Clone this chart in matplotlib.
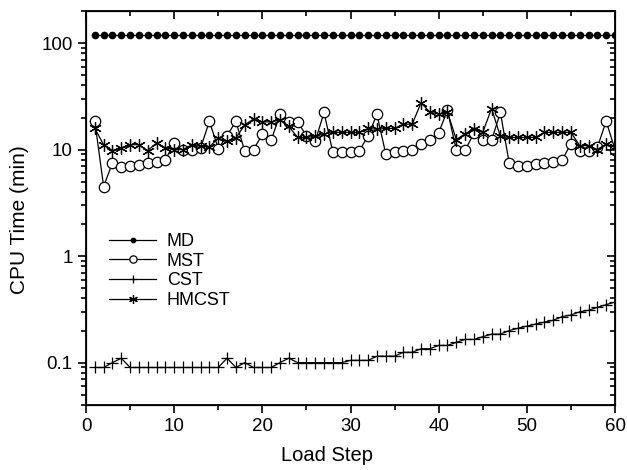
from matplotlib import pyplot as plt
from matplotlib import ticker as tk
import numpy as np

plt.rcParams['font.family'] = ['Liberation Sans', 'DejaVu Sans']

# load steps 1..60
steps = [1, 2, 3, 4, 5, 6, 7, 8, 9, 10, 11, 12, 13, 14, 15, 16, 17, 18, 19, 20,
         21, 22, 23, 24, 25, 26, 27, 28, 29, 30, 31, 32, 33, 34, 35, 36, 37, 38, 39, 40,
         41, 42, 43, 44, 45, 46, 47, 48, 49, 50, 51, 52, 53, 54, 55, 56, 57, 58, 59, 60]

md = [118, 118, 118, 118, 118, 118, 118, 118, 118, 118, 118, 118, 118, 118, 118,
      118, 118, 118, 118, 118, 118, 118, 118, 118, 118, 118, 118, 118, 118, 118,
      118, 118, 118, 118, 118, 118, 118, 118, 118, 118, 118, 118, 118, 118, 118,
      118, 118, 118, 118, 118, 118, 118, 118, 118, 118, 118, 118, 118, 118, 118]

mst = [18.4, 4.5, 7.5, 6.9, 7.0, 7.2, 7.5, 7.6, 8.0, 11.5,
       10.0, 10.0, 10.4, 18.4, 10.2, 13.5, 18.4, 9.7, 10.0, 13.9,
       12.2, 21.4, 18.2, 18.2, 13.5, 12.0, 22.3, 9.4, 9.4, 9.4,
       9.7, 13.5, 21.4, 9.1, 9.4, 9.6, 9.9, 11.3, 12.2, 14.4,
       23.4, 9.9, 9.9, 14.2, 12.2, 12.2, 22.3, 7.5, 7.0, 7.0,
       7.3, 7.5, 7.7, 8.0, 11.3, 9.8, 9.8, 10.5, 18.5, 10.0]

cst = [0.09, 0.09, 0.1, 0.11, 0.09, 0.09, 0.09, 0.09, 0.09, 0.09,
       0.09, 0.09, 0.09, 0.09, 0.09, 0.11, 0.09, 0.1, 0.09, 0.09,
       0.09, 0.1, 0.11, 0.1, 0.1, 0.1, 0.1, 0.1, 0.1, 0.105,
       0.105, 0.105, 0.115, 0.115, 0.115, 0.125, 0.125, 0.135, 0.135, 0.145,
       0.145, 0.155, 0.165, 0.165, 0.175, 0.185, 0.185, 0.2, 0.21, 0.22,
       0.23, 0.24, 0.25, 0.27, 0.28, 0.30, 0.31, 0.33, 0.35, 0.37]

hmcst = [15.8, 11.1, 9.8, 10.4, 11.1, 11.1, 9.8, 11.5, 10.4, 10.0,
         10.0, 11.1, 10.7, 10.6, 12.8, 12.0, 12.8, 17.1, 19.3, 18.2,
         18.2, 19.0, 16.5, 13.0, 13.0, 13.3, 14.0, 14.5, 14.5, 14.5,
         14.5, 15.8, 15.5, 15.8, 15.8, 17.3, 17.3, 27.5, 22.5, 21.5,
         22.5, 12.4, 14.1, 15.6, 14.5, 24.3, 13.3, 13.0, 13.0, 13.0,
         13.0, 14.5, 14.5, 14.5, 14.5, 10.9, 10.9, 10.0, 11.3, 10.5]

fig = plt.figure(figsize=(6.27, 4.70), dpi=100)
ax = fig.add_axes([86/627, 1-405/470, 529/627, 394/470])

ax.plot(steps, md, '-', color='black', lw=0.9, marker='o', ms=4.5,
        mfc='black', mec='black', label='MD', zorder=3)
ax.plot(steps, mst, '-', color='black', lw=0.9, marker='o', ms=7.5,
        mfc='white', mec='black', mew=0.9, label='MST', zorder=4)
ax.plot(steps, cst, '-', color='black', lw=0.9, marker='+', ms=8,
        mew=0.9, label='CST', zorder=3)
ax.plot(steps, hmcst, '-', color='black', lw=0.9, marker=(6, 2, 0), ms=9,
        mew=0.9, label='HMCST', zorder=5)

ax.set_yscale('log')
ax.set_ylim(0.04, 200)
ax.set_xlim(0, 60)
ax.set_xticks([0, 10, 20, 30, 40, 50, 60])
ax.xaxis.set_minor_locator(tk.MultipleLocator(5))
ax.set_yticks([0.1, 1, 10, 100])
ax.yaxis.set_major_formatter(tk.FuncFormatter(lambda v, p: '%g' % v))
ax.yaxis.set_minor_locator(tk.LogLocator(base=10, subs=np.arange(2, 10)))
ax.yaxis.set_minor_formatter(tk.NullFormatter())

ax.tick_params(which='both', direction='out', width=1.2, labelsize=13.5,
               top=False, right=False)
ax.tick_params(which='major', length=6)
ax.tick_params(which='minor', length=3.5)
for s in ax.spines.values():
    s.set_linewidth(1.3)

# mirrored axes, ticks inward, no labels
ax2 = ax.twinx()
ax2.set_yscale('log')
ax2.set_ylim(ax.get_ylim())
ax2.set_yticks([0.1, 1, 10, 100])
ax2.yaxis.set_minor_locator(tk.LogLocator(base=10, subs=np.arange(2, 10)))
ax2.tick_params(which='both', direction='in', width=1.2, labelright=False)
ax2.tick_params(which='major', length=6)
ax2.tick_params(which='minor', length=3.5)
ax2.yaxis.set_minor_formatter(tk.NullFormatter())
ax3 = ax.twiny()
ax3.set_xlim(ax.get_xlim())
ax3.set_xticks([0, 10, 20, 30, 40, 50, 60])
ax3.xaxis.set_minor_locator(tk.MultipleLocator(5))
ax3.tick_params(which='both', direction='in', width=1.2, labeltop=False)
ax3.tick_params(which='major', length=6)
ax3.tick_params(which='minor', length=3.5)

ax.set_xlabel('Load Step', fontsize=14.5)
ax.set_ylabel('CPU Time (min)', fontsize=15)
ax.xaxis.set_label_coords(0.455, -0.104)
ax.yaxis.set_label_coords(-0.108, 0.47)

ax.legend(loc='upper left', bbox_to_anchor=(0.03, 0.455), frameon=False,
          fontsize=13, handlelength=2.6, handletextpad=0.6, labelspacing=0.15,
          borderaxespad=0, markerscale=0.7)

plt.savefig('out.png', dpi=100)
